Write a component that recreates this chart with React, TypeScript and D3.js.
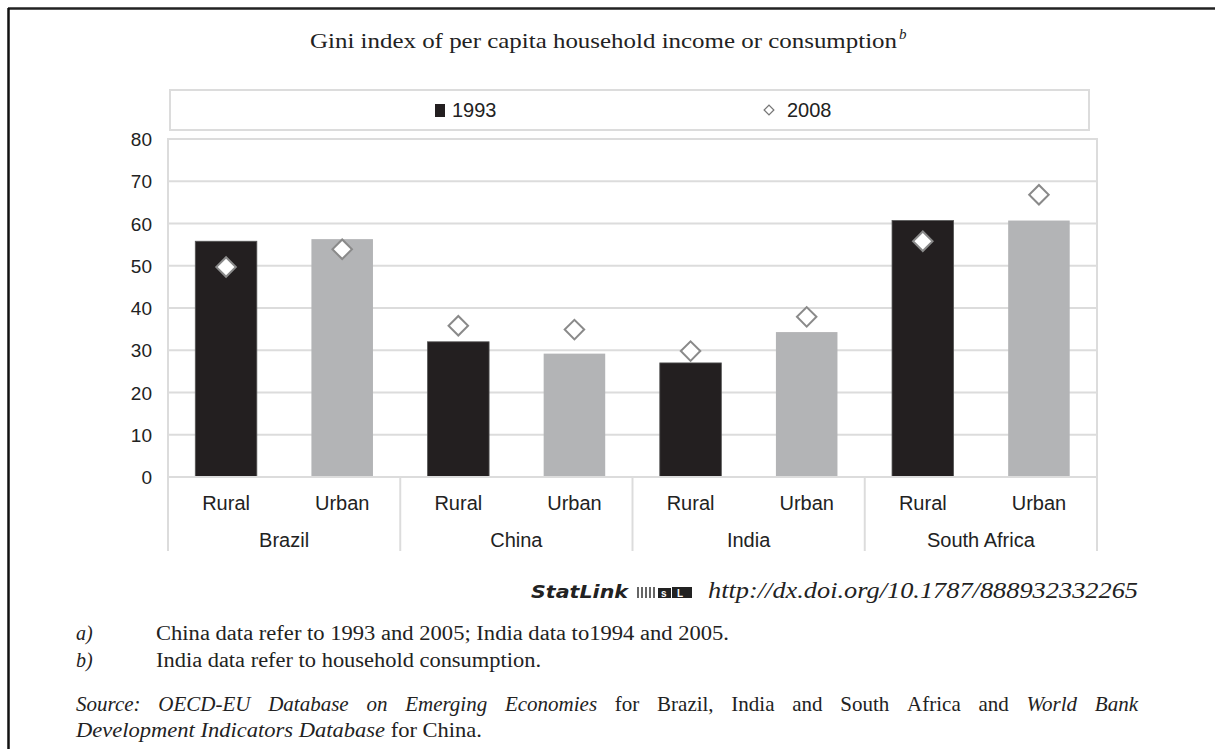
import React, { useEffect, useRef } from "react";
import * as d3 from "d3";

const countries = ["Brazil", "China", "India", "South Africa"];
const areas = ["Rural", "Urban"];
const values1993 = [55.8, 56.3, 32.0, 29.2, 27.0, 34.3, 60.7, 60.7];
const values2008 = [49.7, 53.9, 35.8, 34.9, 29.8, 37.9, 55.8, 66.8];
const yTicks = [0, 10, 20, 30, 40, 50, 60, 70, 80];
const barColors = ["#231f20", "#b3b4b6"];

const sourceLine1 = [
  { t: "Source:", i: true },
  { t: "OECD-EU", i: true },
  { t: "Database", i: true },
  { t: "on", i: true },
  { t: "Emerging", i: true },
  { t: "Economies", i: true },
  { t: "for", i: false },
  { t: "Brazil,", i: false },
  { t: "India", i: false },
  { t: "and", i: false },
  { t: "South", i: false },
  { t: "Africa", i: false },
  { t: "and", i: false },
  { t: "World", i: true },
  { t: "Bank", i: true },
];

const W = 1215;
const H = 749;
const margin = { left: 168, right: 1097, top: 139, bottom: 477 };

export default function App() {
  const srcRef = useRef<SVGGElement | null>(null);

  const cats = countries.flatMap((c) => areas.map((a) => `${c}|${a}`));
  const x = d3
    .scaleBand()
    .domain(cats)
    .range([margin.left, margin.right])
    .paddingInner(0.47)
    .paddingOuter(0.235);
  const step = x.step();
  const groupX = (k: number) => margin.left + k * step * 2;
  const y = d3.scaleLinear().domain([0, 80]).range([margin.bottom, margin.top]);
  const diamond = d3.symbol().type(d3.symbolSquare).size(190)();

  // justify the first source line
  useEffect(() => {
    if (!srcRef.current) return;
    const g = d3.select(srcRef.current);
    const nodes = g.selectAll<SVGTextElement, unknown>("text").nodes();
    const widths = nodes.map((n) => n.getComputedTextLength());
    const total = d3.sum(widths);
    const left = 76;
    const right = 1138;
    const gap = (right - left - total) / (nodes.length - 1);
    let cx = left;
    nodes.forEach((n, i) => {
      d3.select(n).attr("x", cx);
      cx += widths[i] + gap;
    });
  }, []);

  const sans = "'Liberation Sans', Arial, sans-serif";
  const serif = "'Liberation Serif', 'Times New Roman', serif";

  return (
    <svg width={W} height={H} style={{ position: "absolute", left: 0, top: 0 }}>
      <rect width={W} height={H} fill="#fff" />
      {/* outer frame */}
      <line x1={8} x2={W} y1={8.5} y2={8.5} stroke="#222" strokeWidth={2.5} />
      <line x1={8.5} x2={8.5} y1={8} y2={H} stroke="#111" strokeWidth={2.5} />

      {/* title */}
      <text x={310} y={48} fontFamily={serif} fontSize={21} fill="#222">
        <tspan textLength={587} lengthAdjust="spacingAndGlyphs">
          Gini index of per capita household income or consumption
        </tspan>
        <tspan fontStyle="italic" fontSize={15} dy={-9} dx={2}>b</tspan>
      </text>

      {/* legend */}
      <rect x={170} y={90} width={919} height={40} fill="#fff" stroke="#dcdcdc" strokeWidth={2} />
      <rect x={435} y={104} width={10} height={13} fill={barColors[0]} />
      <text x={452} y={117} fontFamily={sans} fontSize={20} fill="#222">1993</text>
      <path d={diamond} transform="translate(769,110) rotate(45) scale(0.5)" fill="#fff" stroke="#777" strokeWidth={2.5} />
      <text x={787} y={117} fontFamily={sans} fontSize={20} fill="#222">2008</text>

      {/* plot frame & grid */}
      <rect x={margin.left} y={margin.top} width={margin.right - margin.left} height={margin.bottom - margin.top} fill="none" stroke="#dcdcdc" strokeWidth={2} />
      {yTicks.map((t) => (
        <g key={t}>
          <line x1={margin.left} x2={margin.right} y1={y(t)} y2={y(t)} stroke="#dcdcdc" strokeWidth={2} />
          <text x={152} y={y(t) + 7} textAnchor="end" fontFamily={sans} fontSize={19} fill="#222">{t}</text>
        </g>
      ))}

      {/* bars */}
      {cats.map((c, i) => (
        <rect
          key={c}
          x={x(c)!}
          y={y(values1993[i])}
          width={x.bandwidth()}
          height={y(0) - y(values1993[i])}
          fill={barColors[i % 2]}
          stroke={i % 2 === 0 ? "#555" : "none"}
          strokeWidth={0.8}
        />
      ))}

      {/* diamonds */}
      {cats.map((c, i) => (
        <path
          key={c}
          d={diamond}
          transform={`translate(${x(c)! + x.bandwidth() / 2},${y(values2008[i])}) rotate(45)`}
          fill="#fff"
          stroke="#8a8a8a"
          strokeWidth={2}
        />
      ))}

      {/* category axis */}
      <line x1={margin.left} x2={margin.right} y1={margin.bottom} y2={margin.bottom} stroke="#dcdcdc" strokeWidth={2} />
      {d3.range(countries.length + 1).map((k) => (
        <line key={k} x1={groupX(k)} x2={groupX(k)} y1={margin.bottom} y2={551} stroke="#dcdcdc" strokeWidth={2} />
      ))}
      {cats.map((c) => (
        <text key={c} x={x(c)! + x.bandwidth() / 2} y={510} textAnchor="middle" fontFamily={sans} fontSize={20} fill="#222">
          {c.split("|")[1]}
        </text>
      ))}
      {countries.map((c, k) => (
        <text key={c} x={groupX(k + 0.5)} y={547} textAnchor="middle" fontFamily={sans} fontSize={20} fill="#222">
          {c}
        </text>
      ))}

      {/* statlink */}
      <text x={531} y={598} fontFamily="'DejaVu Sans', sans-serif" fontWeight="bold" fontStyle="italic" fontSize={18} fill="#222" textLength={97} lengthAdjust="spacingAndGlyphs">StatLink</text>
      <g transform="translate(637,585)">
        {d3.range(5).map((k) => (
          <rect key={k} x={k * 4} y={2} width={2} height={11} fill="#666" />
        ))}
        <rect x={21} y={3} width={13} height={10} fill="#222" />
        <text x={24} y={12} fontFamily={sans} fontSize={10} fontWeight="bold" fill="#fff">s</text>
        <rect x={35} y={2} width={20} height={11} fill="#222" />
        <text x={40} y={12} fontFamily={sans} fontSize={10} fontWeight="bold" fill="#fff">L</text>
      </g>
      <text x={708} y={598} fontFamily={serif} fontStyle="italic" fontSize={24} fill="#222" textLength={430} lengthAdjust="spacingAndGlyphs">
        http://dx.doi.org/10.1787/888932332265
      </text>

      {/* footnotes */}
      <text x={76} y={640} fontFamily={serif} fontStyle="italic" fontSize={20} fill="#222">a)</text>
      <text x={156} y={640} fontFamily={serif} fontSize={20} fill="#222" textLength={573} lengthAdjust="spacingAndGlyphs">China data refer to 1993 and 2005; India data to1994 and 2005.</text>
      <text x={76} y={667} fontFamily={serif} fontStyle="italic" fontSize={20} fill="#222">b)</text>
      <text x={156} y={667} fontFamily={serif} fontSize={20} fill="#222" textLength={385} lengthAdjust="spacingAndGlyphs">India data refer to household consumption.</text>

      <g ref={srcRef}>
        {sourceLine1.map((w, i) => (
          <text key={i} x={76} y={711} fontFamily={serif} fontStyle={w.i ? "italic" : "normal"} fontSize={21} fill="#222">
            {w.t}
          </text>
        ))}
      </g>
      <text x={76} y={737} fontFamily={serif} fontSize={21} fill="#222" textLength={406} lengthAdjust="spacingAndGlyphs">
        <tspan fontStyle="italic">Development Indicators Database</tspan> for China.
      </text>
    </svg>
  );
}
